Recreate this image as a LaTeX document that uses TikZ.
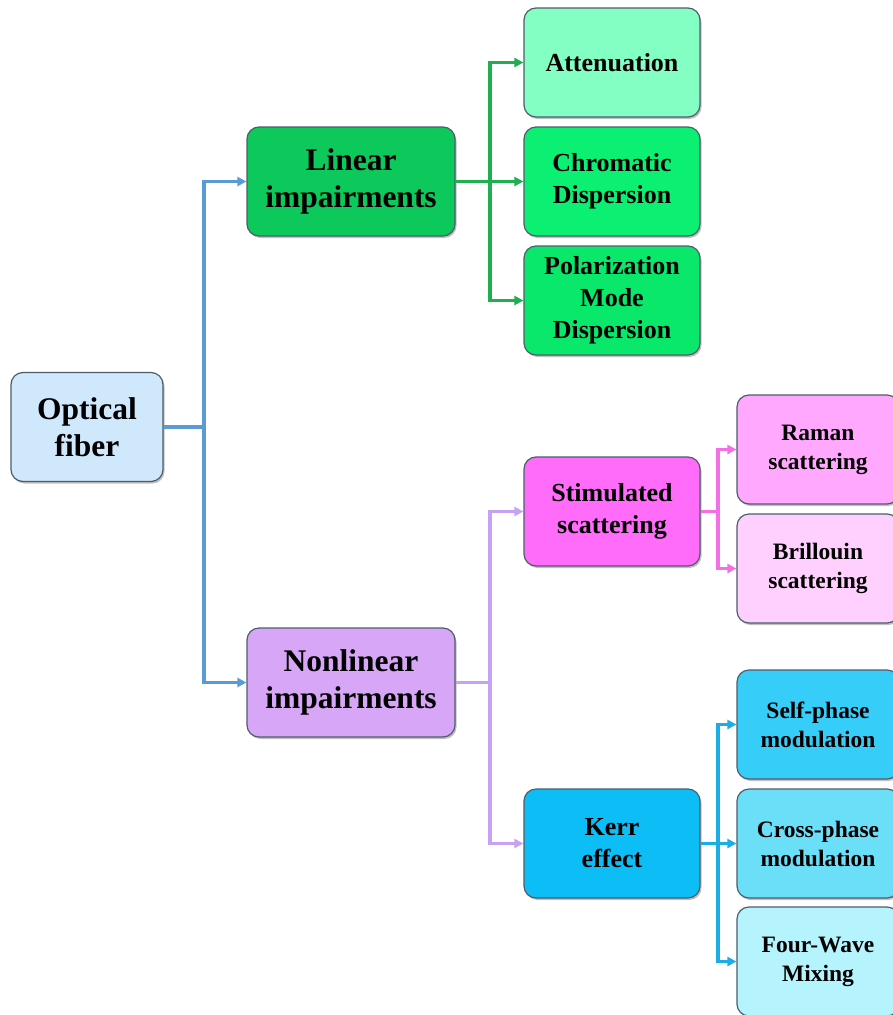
\documentclass[tikz,border=0pt]{standalone}
\usepackage{fontspec}
\setmainfont{Liberation Serif}
\usetikzlibrary{arrows.meta,shadows}
\definecolor{bord}{HTML}{4E5D6C}
\definecolor{lblue}{HTML}{5B9BD5}
\definecolor{lgreen}{HTML}{1FAF50}
\definecolor{llav}{HTML}{C8A2F2}
\definecolor{lpink}{HTML}{F46EE8}
\definecolor{lcyan}{HTML}{1AADE6}
\definecolor{fopt}{HTML}{D0E8FC}
\definecolor{flin}{HTML}{0DC95B}
\definecolor{fnl}{HTML}{D8A6F7}
\definecolor{fatt}{HTML}{84FFC3}
\definecolor{fchr}{HTML}{0BF072}
\definecolor{fpmd}{HTML}{0AE86C}
\definecolor{fsti}{HTML}{FF6CF9}
\definecolor{fram}{HTML}{FFA8FD}
\definecolor{fbri}{HTML}{FFD0FD}
\definecolor{fker}{HTML}{0DBDF6}
\definecolor{fspm}{HTML}{36CEF8}
\definecolor{fxpm}{HTML}{6BDEF8}
\definecolor{ffwm}{HTML}{B5F3FD}
\tikzset{
  box/.style={draw=bord, line width=1.2pt, rounded corners=12pt, minimum height=109pt,
    inner sep=0pt, align=center, text=black,
    drop shadow={shadow xshift=1.5pt, shadow yshift=-2pt, opacity=0.35, fill=black!70}},
  bigbox/.style={box, minimum width=208pt, font=\bfseries\fontsize{31.5}{37}\selectfont},
  optbox/.style={box, minimum width=152pt, font=\bfseries\fontsize{31.5}{37}\selectfont},
  midbox/.style={box, minimum width=176pt, font=\bfseries\fontsize{26}{32}\selectfont},
  rbox/.style={box, minimum width=162pt, font=\bfseries\fontsize{23.5}{29}\selectfont},
  conn/.style={line width=3.2pt, -{Triangle[length=9pt,width=9pt]}},
  seg/.style={line width=3.2pt}
}
\begin{document}
\begin{tikzpicture}[x=1pt,y=-1pt]
\useasboundingbox (0,0) rectangle (893,1015);
\fill[white] (0,0) rectangle (893,1015);
% nodes
\node[optbox, fill=fopt] (opt) at (87,427) {Optical\\fiber};
\node[bigbox, fill=flin] (lin) at (351,181.5) {Linear\\impairments};
\node[bigbox, fill=fnl] (nl) at (351,682.5) {Nonlinear\\impairments};
\node[midbox, fill=fatt] (att) at (612,62.5) {Attenuation};
\node[midbox, fill=fchr] (chr) at (612,181.5) {Chromatic\\Dispersion};
\node[midbox, fill=fpmd] (pmd) at (612,300.5) {Polarization\\Mode\\Dispersion};
\node[midbox, fill=fsti] (sti) at (612,511.5) {Stimulated\\scattering};
\node[midbox, fill=fker] (ker) at (612,843.5) {Kerr\\effect};
\node[rbox, fill=fram] (ram) at (818,449.5) {Raman\\scattering};
\node[rbox, fill=fbri] (bri) at (818,568.5) {Brillouin\\scattering};
\node[rbox, fill=fspm] (spm) at (818,724.5) {Self-phase\\modulation};
\node[rbox, fill=fxpm] (xpm) at (818,843.5) {Cross-phase\\modulation};
\node[rbox, fill=ffwm] (fwm) at (818,961.5) {Four-Wave\\Mixing};
% junctions
\coordinate (j1) at (204,427);
\coordinate (j2) at (490,181.5);
\coordinate (j3) at (490,682.5);
\coordinate (j4) at (718,511.5);
\coordinate (j5) at (718,843.5);
% connectors
\draw[seg, lblue] (opt.east) -- (j1);
\draw[conn, lblue] (j1) |- (lin.west);
\draw[conn, lblue] (j1) |- (nl.west);
\draw[conn, lgreen] (lin.east) -- (chr.west);
\draw[conn, lgreen] (j2) |- (att.west);
\draw[conn, lgreen] (j2) |- (pmd.west);
\draw[seg, llav] (nl.east) -- (j3);
\draw[conn, llav] (j3) |- (sti.west);
\draw[conn, llav] (j3) |- (ker.west);
\draw[seg, lpink] (sti.east) -- (j4);
\draw[conn, lpink] (j4) |- (ram.west);
\draw[conn, lpink] (j4) |- (bri.west);
\draw[conn, lcyan] (ker.east) -- (xpm.west);
\draw[conn, lcyan] (j5) |- (spm.west);
\draw[conn, lcyan] (j5) |- (fwm.west);
\end{tikzpicture}
\end{document}
